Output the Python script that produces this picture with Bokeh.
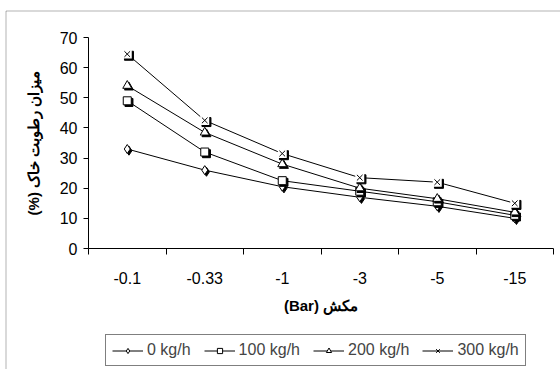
from bokeh.plotting import figure
from bokeh.models import (Range1d, FixedTicker, Legend, LegendItem, ColumnDataSource,
                          BoxAnnotation, LinearAxis)
from bokeh.transform import dodge
from bokeh.embed import file_html
from bokeh.resources import INLINE

suction = ["-0.1", "-0.33", "-1", "-3", "-5", "-15"]
s0 = [33, 26, 20.5, 17, 14, 10]
s100 = [49, 32, 22.5, 19, 15.5, 11]
s200 = [54, 38.5, 28, 20, 16.5, 12]
s300 = [64.5, 42.5, 31.5, 23.5, 22, 15]
names = ["0 kg/h", "100 kg/h", "200 kg/h", "300 kg/h"]
yticks = [0, 10, 20, 30, 40, 50, 60, 70]
x_title = "\u202Bمکش (Bar)\u202C"
y_title = "\u202Bمیزان رطوبت خاک (%)\u202C"

xpos = [i + 0.5 for i in range(len(suction))]

# Layout: plot area spans pixel x 88..553 and y 37..248 inside a 560x369 canvas
W, H = 560, 369
L, R, T, B = 88, 553, 37, 248
nx = len(suction)
ymax = yticks[-1]
xs = (R - L) / nx
ys = (B - T) / ymax
x_range = Range1d(-L / xs, nx + (W - R) / xs)
y_range = Range1d(-(H - B) / ys, ymax + T / ys)

p = figure(width=W, height=H, output_backend="svg", toolbar_location=None,
           x_range=x_range, y_range=y_range,
           x_axis_location=None, y_axis_location=None,
           min_border=0)
p.grid.visible = False
p.outline_line_color = None

font = "Liberation Sans"
xaxis = LinearAxis(fixed_location=0, bounds=(0, nx))
xaxis.ticker = FixedTicker(ticks=xpos, minor_ticks=list(range(nx + 1)))
xaxis.major_label_overrides = {x: s for x, s in zip(xpos, suction)}
xaxis.major_tick_out = 0
xaxis.major_tick_in = 0
xaxis.minor_tick_out = 6
xaxis.minor_tick_in = 0
xaxis.major_label_standoff = 17
xaxis.axis_label = x_title
xaxis.axis_label_standoff = 10

yaxis = LinearAxis(fixed_location=0, bounds=(0, ymax))
yaxis.ticker = FixedTicker(ticks=yticks, minor_ticks=[])
yaxis.major_tick_out = 5
yaxis.major_tick_in = 0
yaxis.major_label_standoff = 6
yaxis.axis_label = y_title
yaxis.axis_label_standoff = 15

for ax in (xaxis, yaxis):
    ax.axis_line_color = "black"
    ax.major_tick_line_color = "black"
    ax.minor_tick_line_color = "black"
    ax.major_label_text_font = font
    ax.major_label_text_font_size = "16px"
    ax.major_label_text_color = "black"
    ax.axis_label_text_font = font
    ax.axis_label_text_font_size = "15px"
    ax.axis_label_text_font_style = "bold"
    ax.axis_label_text_color = "black"
p.add_layout(xaxis, "below")
p.add_layout(yaxis, "left")

series = [s0, s100, s200, s300]
markers = ["diamond", "square", "triangle", "x"]
sizes = [9, 8, 9, 9]
items = []
for name, vals, mk, sz in zip(names, series, markers, sizes):
    src = ColumnDataSource(dict(x=xpos, y=vals))
    ln = p.line("x", "y", source=src, line_color="black", line_width=1)
    shadow_mk = "square" if mk == "x" else mk
    p.scatter(dodge("x", 0.022, range=p.x_range), dodge("y", -0.55, range=p.y_range), source=src,
              marker=shadow_mk, size=sz, fill_color="black", line_color="black")
    if mk == "x":
        p.scatter("x", "y", source=src, marker="square", size=sz, fill_color="white", line_color=None)
        m = p.scatter("x", "y", source=src, marker="x", size=sz - 1, line_color="black", line_width=1)
    else:
        m = p.scatter("x", "y", source=src, marker=mk, size=sz, fill_color="white", line_color="black", line_width=1)
    items.append(LegendItem(label=name, renderers=[ln, m]))

legend = Legend(items=items, orientation="horizontal", location=(105, 3),
                border_line_color="black", border_line_width=1,
                label_text_font=font, label_text_font_size="16px",
                glyph_width=31, glyph_height=13, label_standoff=4, spacing=13,
                padding=6, margin=0, background_fill_alpha=1)
p.add_layout(legend, "center")

outer = BoxAnnotation(left=5.5, right=W + 20, top=10.5, bottom=H + 20,
                      left_units="canvas", right_units="canvas",
                      top_units="canvas", bottom_units="canvas",
                      fill_alpha=0, line_color="black", line_width=1)
p.add_layout(outer)

open("out.html", "w").write(file_html(p, INLINE))
